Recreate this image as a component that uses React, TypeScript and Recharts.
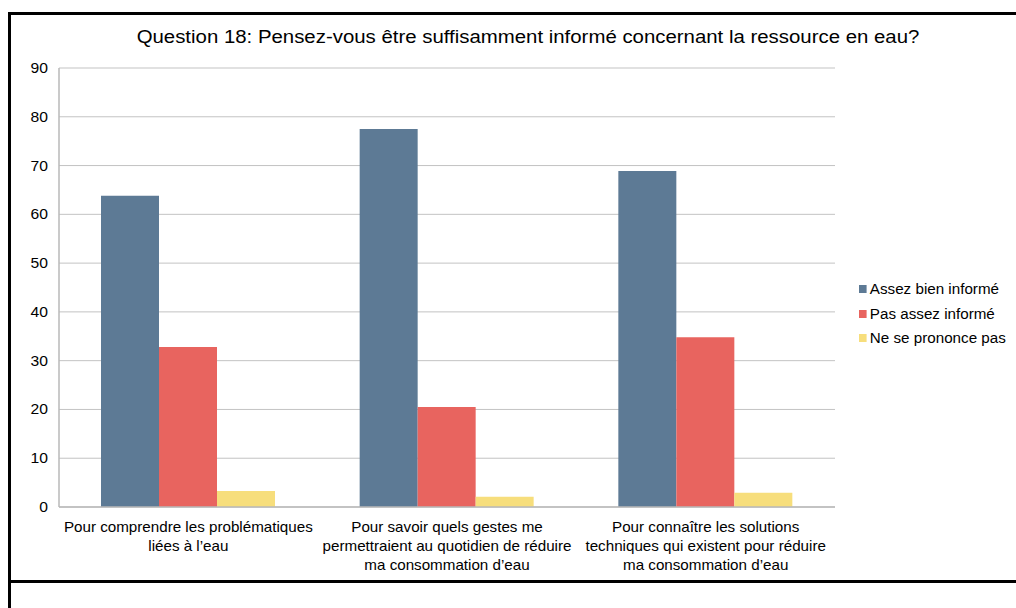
import { BarChart, Bar, XAxis, YAxis, CartesianGrid, Legend } from 'recharts'

const TITLE = 'Question 18: Pensez-vous être suffisamment informé concernant la ressource en eau?'

const CATEGORIES = [
  ['Pour comprendre les problématiques', 'liées à l’eau'],
  ['Pour savoir quels gestes me', 'permettraient au quotidien de réduire', 'ma consommation d’eau'],
  ['Pour connaître les solutions', 'techniques qui existent pour réduire', 'ma consommation d’eau'],
]

const BIEN = [63.8, 77.5, 68.9]
const PAS_ASSEZ = [32.8, 20.5, 34.8]
const NSP = [3.3, 2.1, 2.9]

const Y_TICKS = [0, 10, 20, 30, 40, 50, 60, 70, 80, 90]

const SERIES = [
  { key: 'bien', name: 'Assez bien informé', color: '#5d7a95' },
  { key: 'pas', name: 'Pas assez informé', color: '#e8645f' },
  { key: 'nsp', name: 'Ne se prononce pas', color: '#f7de7c' },
]

const FONT = 'Arial, "Liberation Sans", sans-serif'
// the original picture is a bit stretched horizontally
const SX = 1.085

const data = CATEGORIES.map((lines, i) => ({
  name: lines.join(' '),
  bien: BIEN[i],
  pas: PAS_ASSEZ[i],
  nsp: NSP[i],
}))

function CatTick({ x, y, index }: any) {
  const lines = CATEGORIES[index] || []
  return (
    <g transform={`translate(${x},${y}) scale(${SX},1)`}>
      <text x={0} y={0} textAnchor="middle" fontSize={14} fill="#000" fontFamily={FONT}>
        {lines.map((l, i) => (
          <tspan key={i} x={0} dy={i === 0 ? 17 : 19}>{l}</tspan>
        ))}
      </text>
    </g>
  )
}

function ValTick({ x, y, payload }: any) {
  return (
    <g transform={`translate(${x},${y}) scale(1.12,1)`}>
      <text x={0} y={0} dy={5} textAnchor="end" fontSize={14} fill="#000" fontFamily={FONT}>
        {payload.value}
      </text>
    </g>
  )
}

function LegendBox() {
  return (
    <div style={{ fontFamily: FONT, fontSize: 14, color: '#000', transform: `scaleX(${SX})`, transformOrigin: 'left top' }}>
      {SERIES.map(s => (
        <div key={s.key} style={{ display: 'flex', alignItems: 'center', height: 24.5 }}>
          <span style={{ width: 7, height: 8, background: s.color, marginRight: 3, display: 'inline-block' }} />
          {s.name}
        </div>
      ))}
    </div>
  )
}

export default function App() {
  return (
    <div style={{ position: 'absolute', left: 0, top: 0, width: 1016, height: 608, background: '#fff', overflow: 'hidden' }}>
      <div style={{ position: 'absolute', left: 8, top: 12, width: 1008, height: 3, background: '#000' }} />
      <div style={{ position: 'absolute', left: 8, top: 12, width: 3, height: 596, background: '#000' }} />
      <div style={{ position: 'absolute', left: 8, top: 580, width: 1008, height: 3, background: '#000' }} />
      <div
        style={{
          position: 'absolute', left: 128, top: 27, width: 800, textAlign: 'center',
          fontFamily: FONT, fontSize: 17.5, color: '#000', whiteSpace: 'nowrap',
          transform: 'scaleX(1.165)', transformOrigin: '400px 0',
        }}
      >
        {TITLE}
      </div>
      <div style={{ position: 'absolute', left: 0, top: 0 }}>
        <BarChart
          width={1016}
          height={608}
          data={data}
          margin={{ top: 68, right: 181, left: 9, bottom: 41 }}
          barGap={0}
          barCategoryGap={42}
        >
          <CartesianGrid vertical={false} stroke="#c3c3c3" />
          <XAxis
            dataKey="name"
            height={60}
            interval={0}
            tick={<CatTick />}
            tickLine={false}
            axisLine={{ stroke: '#b8b8b8', strokeWidth: 1.5 }}
          />
          <YAxis
            width={50}
            domain={[0, 90]}
            ticks={Y_TICKS}
            tickLine={false}
            tickMargin={5}
            axisLine={{ stroke: '#b8b8b8', strokeWidth: 1.5 }}
            tick={<ValTick />}
          />
          <YAxis
            yAxisId="border"
            orientation="right"
            width={0}
            domain={[0, 90]}
            tick={false}
            tickLine={false}
            axisLine={{ stroke: '#c3c3c3' }}
          />
          <Legend
            layout="vertical"
            align="center"
            verticalAlign="middle"
            content={<LegendBox />}
            wrapperStyle={{ left: 859, top: 277, width: 150 }}
          />
          {SERIES.map(s => (
            <Bar key={s.key} dataKey={s.key} name={s.name} fill={s.color} isAnimationActive={false} />
          ))}
        </BarChart>
      </div>
    </div>
  )
}
